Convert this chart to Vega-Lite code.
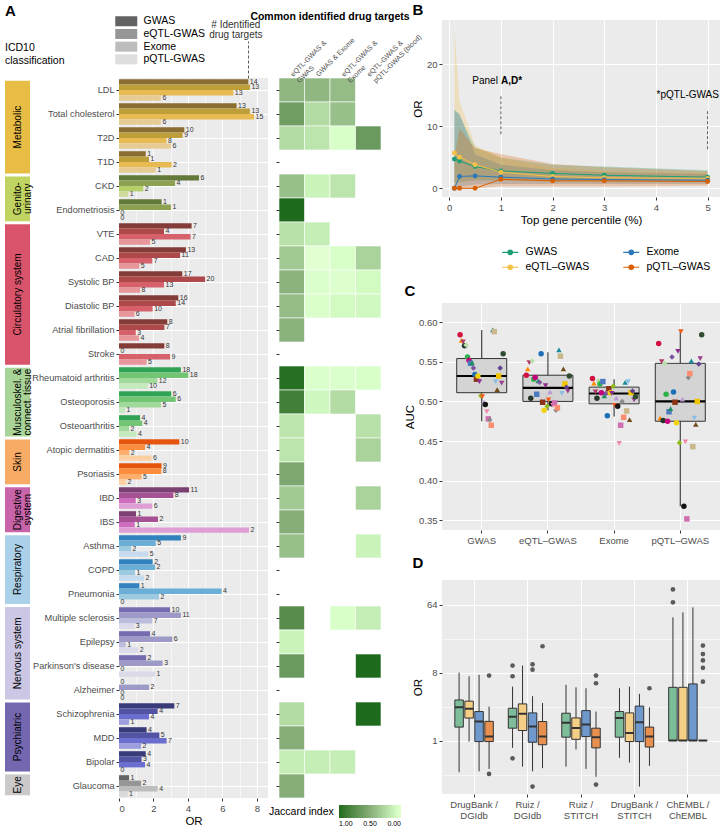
{
"$schema": "https://vega.github.io/schema/vega-lite/v6.json",
"padding": {"left": 5, "top": 3, "right": 0, "bottom": 0},
"background": "white",
"config": {
 "font": "Liberation Sans",
 "view": {"fill": "#ebebeb", "stroke": null},
 "axis": {"domain": false, "gridColor": "white", "gridWidth": 1.1, "tickColor": "#333333", "tickSize": 3, "labelColor": "#4d4d4d", "labelFontSize": 9.5, "titleFontSize": 11.5, "titleFontWeight": "normal", "titleColor": "black", "labelPadding": 2, "titlePadding": 3},
 "title": {"fontSize": 15, "fontWeight": "bold", "anchor": "start", "color": "black", "frame": "bounds"},
 "legend": {"labelFontSize": 10, "labelColor": "black", "titleFontWeight": "normal", "titleFontSize": 11, "titleColor": "black"}
},
"datasets": {
 "bars": [
  {"d":"LDL","c":"Met","m":["GWAS","eQTL-GWAS","Exome","pQTL-GWAS"],"v":[7.5,7.59,6.63,2.43],"n":[14,13,13,6]},
  {"d":"Total cholesterol","c":"Met","m":["GWAS","eQTL-GWAS","Exome","pQTL-GWAS"],"v":[6.82,7.59,7.83,2.43],"n":[13,13,15,6]},
  {"d":"T2D","c":"Met","m":["GWAS","eQTL-GWAS","Exome","pQTL-GWAS"],"v":[3.79,3.69,2.76,3.01],"n":[10,9,8,6]},
  {"d":"T1D","c":"Met","m":["GWAS","eQTL-GWAS","Exome","pQTL-GWAS"],"v":[1.55,1.74,3.05,2.13],"n":[1,1,2,1]},
  {"d":"CKD","c":"Gen","m":["GWAS","eQTL-GWAS","Exome","pQTL-GWAS"],"v":[4.64,3.25,1.41,0.54],"n":[6,4,2,1]},
  {"d":"Endometriosis","c":"Gen","m":["GWAS","eQTL-GWAS","Exome","pQTL-GWAS"],"v":[2.47,3.01,0,0],"n":[1,1,0,0]},
  {"d":"VTE","c":"Cir","m":["GWAS","eQTL-GWAS","Exome","pQTL-GWAS"],"v":[4.21,2.61,4.15,1.8],"n":[7,4,7,5]},
  {"d":"CAD","c":"Cir","m":["GWAS","eQTL-GWAS","Exome","pQTL-GWAS"],"v":[3.88,3.54,1.93,1.18],"n":[13,11,7,5]},
  {"d":"Systolic BP","c":"Cir","m":["GWAS","eQTL-GWAS","Exome","pQTL-GWAS"],"v":[3.67,4.99,2.61,1.22],"n":[17,20,13,8]},
  {"d":"Diastolic BP","c":"Cir","m":["GWAS","eQTL-GWAS","Exome","pQTL-GWAS"],"v":[3.44,3.29,1.95,0.89],"n":[16,14,10,6]},
  {"d":"Atrial fibrillation","c":"Cir","m":["GWAS","eQTL-GWAS","Exome","pQTL-GWAS"],"v":[2.8,2.63,0.97,1.16],"n":[8,7,3,4]},
  {"d":"Stroke","c":"Cir","m":["GWAS","eQTL-GWAS","Exome","pQTL-GWAS"],"v":[2.63,0,2.96,1.6],"n":[8,0,9,5]},
  {"d":"Rheumatoid arthritis","c":"Mus","m":["GWAS","eQTL-GWAS","Exome","pQTL-GWAS"],"v":[3.59,4.02,2.22,1.66],"n":[18,18,12,10]},
  {"d":"Osteoporosis","c":"Mus","m":["GWAS","eQTL-GWAS","Exome","pQTL-GWAS"],"v":[3.03,3.29,2.43,0.35],"n":[6,6,5,1]},
  {"d":"Osteoarthritis","c":"Mus","m":["GWAS","eQTL-GWAS","Exome","pQTL-GWAS"],"v":[1.22,1.35,0.58,1.02],"n":[4,4,2,4]},
  {"d":"Atopic dermatitis","c":"Ski","m":["GWAS","eQTL-GWAS","Exome","pQTL-GWAS"],"v":[3.5,1.51,0.6,1.89],"n":[10,4,2,6]},
  {"d":"Psoriasis","c":"Ski","m":["GWAS","eQTL-GWAS","Exome","pQTL-GWAS"],"v":[2.47,2.45,1.31,0.41],"n":[9,8,5,2]},
  {"d":"IBD","c":"Dig","m":["GWAS","eQTL-GWAS","Exome","pQTL-GWAS"],"v":[4.06,3.15,0.97,1.93],"n":[11,8,3,6]},
  {"d":"IBS","c":"Dig","m":["GWAS","eQTL-GWAS","Exome","pQTL-GWAS"],"v":[0.99,2.26,0.91,7.54],"n":[1,2,1,2]},
  {"d":"Asthma","c":"Res","m":["GWAS","eQTL-GWAS","Exome","pQTL-GWAS"],"v":[3.59,2.13,0.7,1.7],"n":[9,5,2,5]},
  {"d":"COPD","c":"Res","m":["GWAS","eQTL-GWAS","Exome","pQTL-GWAS"],"v":[1.95,2.09,0.93,1.45],"n":[2,2,1,2]},
  {"d":"Pneumonia","c":"Res","m":["GWAS","eQTL-GWAS","Exome","pQTL-GWAS"],"v":[1.18,5.95,2.32,0],"n":[1,4,2,0]},
  {"d":"Multiple sclerosis","c":"Ner","m":["GWAS","eQTL-GWAS","Exome","pQTL-GWAS"],"v":[2.96,3.59,1.93,0.89],"n":[10,11,7,3]},
  {"d":"Epilepsy","c":"Ner","m":["GWAS","eQTL-GWAS","Exome","pQTL-GWAS"],"v":[1.8,3.09,0.39,1.12],"n":[4,6,1,2]},
  {"d":"Parkinson's disease","c":"Ner","m":["GWAS","eQTL-GWAS","Exome","pQTL-GWAS"],"v":[1.57,2.53,0,2.09],"n":[2,3,0,1]},
  {"d":"Alzheimer","c":"Ner","m":["GWAS","eQTL-GWAS","Exome","pQTL-GWAS"],"v":[0,1.74,0,0],"n":[0,2,0,0]},
  {"d":"Schizophrenia","c":"Psy","m":["GWAS","eQTL-GWAS","Exome","pQTL-GWAS"],"v":[3.21,2.24,1.74,0.58],"n":[7,4,4,1]},
  {"d":"MDD","c":"Psy","m":["GWAS","eQTL-GWAS","Exome","pQTL-GWAS"],"v":[1.6,2.34,2.76,1.28],"n":[4,5,7,2]},
  {"d":"Bipolar","c":"Psy","m":["GWAS","eQTL-GWAS","Exome","pQTL-GWAS"],"v":[1.55,1.31,1.51,0],"n":[4,3,4,0]},
  {"d":"Glaucoma","c":"Eye","m":["GWAS","eQTL-GWAS","Exome","pQTL-GWAS"],"v":[0.58,1.28,2.24,0.5],"n":[1,2,4,1]}
 ],
 "heat": [
  {"d":"LDL","col":["eG","GX","eX","eP"],"j":[0.45,0.45,0.42,null]},
  {"d":"Total cholesterol","col":["eG","GX","eX","eP"],"j":[0.62,0.25,0.4,null]},
  {"d":"T2D","col":["eG","GX","eX","eP"],"j":[0.25,0.2,0.05,0.65]},
  {"d":"CKD","col":["eG","GX","eX","eP"],"j":[0.4,0.12,0.2,null]},
  {"d":"Endometriosis","col":["eG","GX","eX","eP"],"j":[1.0,null,null,null]},
  {"d":"VTE","col":["eG","GX","eX","eP"],"j":[0.22,0.15,null,null]},
  {"d":"CAD","col":["eG","GX","eX","eP"],"j":[0.35,0.0,0.05,0.3]},
  {"d":"Systolic BP","col":["eG","GX","eX","eP"],"j":[0.47,0.03,0.02,0.08]},
  {"d":"Diastolic BP","col":["eG","GX","eX","eP"],"j":[0.42,0.04,0.08,0.09]},
  {"d":"Atrial fibrillation","col":["eG","GX","eX","eP"],"j":[0.48,null,null,null]},
  {"d":"Rheumatoid arthritis","col":["eG","GX","eX","eP"],"j":[0.97,0.03,0.03,0.05]},
  {"d":"Osteoporosis","col":["eG","GX","eX","eP"],"j":[0.85,0.1,0.25,null]},
  {"d":"Osteoarthritis","col":["eG","GX","eX","eP"],"j":[0.2,null,null,0.22]},
  {"d":"Atopic dermatitis","col":["eG","GX","eX","eP"],"j":[0.2,null,null,0.3]},
  {"d":"Psoriasis","col":["eG","GX","eX","eP"],"j":[0.55,null,null,null]},
  {"d":"IBD","col":["eG","GX","eX","eP"],"j":[0.35,null,null,0.3]},
  {"d":"IBS","col":["eG","GX","eX","eP"],"j":[0.5,null,null,null]},
  {"d":"Asthma","col":["eG","GX","eX","eP"],"j":[0.4,null,null,0.12]},
  {"d":"Multiple sclerosis","col":["eG","GX","eX","eP"],"j":[0.75,null,0.05,0.15]},
  {"d":"Epilepsy","col":["eG","GX","eX","eP"],"j":[0.12,null,null,null]},
  {"d":"Parkinson's disease","col":["eG","GX","eX","eP"],"j":[0.65,null,null,1.0]},
  {"d":"Schizophrenia","col":["eG","GX","eX","eP"],"j":[0.25,null,null,1.0]},
  {"d":"MDD","col":["eG","GX","eX","eP"],"j":[0.5,null,null,null]},
  {"d":"Bipolar","col":["eG","GX","eX","eP"],"j":[0.15,0.15,0.15,null]},
  {"d":"Glaucoma","col":["eG","GX","eX","eP"],"j":[0.5,null,null,null]}
 ],
 "strip": [
  {"c":"Metabolic","s":0,"e":4,"t":["Metabolic"]},
  {"c":"Genito-urinary","s":4,"e":6,"t":["Genito-","urinary"]},
  {"c":"Circulatory system","s":6,"e":12,"t":["Circulatory system"]},
  {"c":"Musculoskel.","s":12,"e":15,"t":["Musculoskel. &","connect. tissue"]},
  {"c":"Skin","s":15,"e":17,"t":["Skin"]},
  {"c":"Digestive system","s":17,"e":19,"t":["Digestive","system"]},
  {"c":"Respiratory","s":19,"e":22,"t":["Respiratory"]},
  {"c":"Nervous system","s":22,"e":26,"t":["Nervous system"]},
  {"c":"Psychiatric","s":26,"e":29,"t":["Psychiatric"]},
  {"c":"Eye","s":29,"e":30,"t":["Eye"]}
 ],
 "trend": [
  {"m":"GWAS","p":[0.1,0.2,0.5,1,2,3,5],"or":[4.7,4.4,3.5,2.8,2.4,2.1,1.8],"lo":[0.8,1.0,1.3,1.3,1.3,1.2,1.1],"hi":[12.8,11.7,6.6,4.9,3.8,3.5,2.9]},
  {"m":"eQTL-GWAS","p":[0.1,0.2,0.5,1,2,3,5],"or":[5.7,5.0,3.8,2.6,1.9,1.7,1.6],"lo":[0.9,1.0,1.3,1.2,1.0,0.9,0.9],"hi":[25.7,14.0,6.9,5.0,3.3,2.8,2.5]},
  {"m":"Exome","p":[0.1,0.2,0.5,1,2,3,5],"or":[0,1.9,2.0,1.8,1.5,1.4,1.3],"lo":[0,0.2,0.6,0.7,0.7,0.7,0.7],"hi":[12.5,12.0,5.5,3.8,2.9,2.6,2.3]},
  {"m":"pQTL-GWAS","p":[0.1,0.2,0.5,1,2,3,5],"or":[0,0,0,1.45,1.2,1.2,1.1],"lo":[0,0,0,0.3,0.3,0.3,0.4],"hi":[5.0,9.6,6.5,5.5,3.9,3.4,2.8]}
 ],
 "cbox": [
  {"m":"GWAS","lo":0.475,"q1":0.511,"med":0.532,"q3":0.554,"hi":0.59},
  {"m":"eQTL-GWAS","lo":0.489,"q1":0.5,"med":0.517,"q3":0.533,"hi":0.562},
  {"m":"Exome","lo":0.481,"q1":0.497,"med":0.51,"q3":0.518,"hi":0.528},
  {"m":"pQTL-GWAS","lo":0.368,"q1":0.475,"med":0.5,"q3":0.548,"hi":0.59}
 ],
 "cpts": [
  {"d":"LDL","m":["GWAS","eQTL-GWAS","Exome","pQTL-GWAS"],"a":[0.584,0.533,0.529,0.573]},
  {"d":"Total cholesterol","m":["GWAS","eQTL-GWAS","Exome","pQTL-GWAS"],"a":[0.577,0.541,0.523,0.479]},
  {"d":"T2D","m":["GWAS","eQTL-GWAS","Exome","pQTL-GWAS"],"a":[0.575,0.549,0.512,0.55]},
  {"d":"T1D","m":["GWAS","eQTL-GWAS","Exome","pQTL-GWAS"],"a":[0.57,0.504,0.504,0.476]},
  {"d":"CKD","m":["GWAS","eQTL-GWAS","Exome","pQTL-GWAS"],"a":[0.571,0.551,0.526,0.548]},
  {"d":"Endometriosis","m":["GWAS","eQTL-GWAS","Exome","pQTL-GWAS"],"a":[0.556,0.528,0.522,0.509]},
  {"d":"VTE","m":["GWAS","eQTL-GWAS","Exome","pQTL-GWAS"],"a":[0.552,0.53,0.511,0.475]},
  {"d":"CAD","m":["GWAS","eQTL-GWAS","Exome","pQTL-GWAS"],"a":[0.548,0.509,0.525,0.487]},
  {"d":"Systolic BP","m":["GWAS","eQTL-GWAS","Exome","pQTL-GWAS"],"a":[0.549,0.526,0.507,0.491]},
  {"d":"Diastolic BP","m":["GWAS","eQTL-GWAS","Exome","pQTL-GWAS"],"a":[0.542,0.524,0.51,0.556]},
  {"d":"Atrial fibrillation","m":["GWAS","eQTL-GWAS","Exome","pQTL-GWAS"],"a":[0.534,0.56,0.482,0.512]},
  {"d":"Stroke","m":["GWAS","eQTL-GWAS","Exome","pQTL-GWAS"],"a":[0.528,0.499,0.516,0.499]},
  {"d":"Rheumatoid arthritis","m":["GWAS","eQTL-GWAS","Exome","pQTL-GWAS"],"a":[0.532,0.489,0.511,0.473]},
  {"d":"Osteoporosis","m":["GWAS","eQTL-GWAS","Exome","pQTL-GWAS"],"a":[0.525,0.52,0.51,0.563]},
  {"d":"Osteoarthritis","m":["GWAS","eQTL-GWAS","Exome","pQTL-GWAS"],"a":[0.507,0.494,0.519,0.448]},
  {"d":"Atopic dermatitis","m":["GWAS","eQTL-GWAS","Exome","pQTL-GWAS"],"a":[0.506,0.502,0.495,0.588]},
  {"d":"Psoriasis","m":["GWAS","eQTL-GWAS","Exome","pQTL-GWAS"],"a":[0.499,0.512,0.504,0.503]},
  {"d":"IBD","m":["GWAS","eQTL-GWAS","Exome","pQTL-GWAS"],"a":[0.496,0.497,0.494,0.368]},
  {"d":"IBS","m":["GWAS","eQTL-GWAS","Exome","pQTL-GWAS"],"a":[0.487,0.495,0.447,0.449]},
  {"d":"Asthma","m":["GWAS","eQTL-GWAS","Exome","pQTL-GWAS"],"a":[0.478,0.498,0.47,0.352]},
  {"d":"COPD","m":["GWAS","eQTL-GWAS","Exome","pQTL-GWAS"],"a":[0.477,0.489,0.5,0.53]},
  {"d":"Pneumonia","m":["GWAS","eQTL-GWAS","Exome","pQTL-GWAS"],"a":[0.47,0.492,0.48,0.535]},
  {"d":"Multiple sclerosis","m":["GWAS","eQTL-GWAS","Exome","pQTL-GWAS"],"a":[0.59,0.565,0.524,0.551]},
  {"d":"Epilepsy","m":["GWAS","eQTL-GWAS","Exome","pQTL-GWAS"],"a":[0.588,0.557,0.488,0.443]},
  {"d":"Parkinson's disease","m":["GWAS","eQTL-GWAS","Exome","pQTL-GWAS"],"a":[0.525,0.51,0.525,0.479]},
  {"d":"Alzheimer","m":["GWAS","eQTL-GWAS","Exome","pQTL-GWAS"],"a":[0.515,0.541,0.477,0.471]},
  {"d":"Schizophrenia","m":["GWAS","eQTL-GWAS","Exome","pQTL-GWAS"],"a":[0.532,0.522,0.511,0.5]},
  {"d":"MDD","m":["GWAS","eQTL-GWAS","Exome","pQTL-GWAS"],"a":[0.542,0.518,0.513,0.547]},
  {"d":"Bipolar","m":["GWAS","eQTL-GWAS","Exome","pQTL-GWAS"],"a":[0.523,0.513,0.502,0.554]},
  {"d":"Glaucoma","m":["GWAS","eQTL-GWAS","Exome","pQTL-GWAS"],"a":[0.56,0.532,0.506,0.584]}
 ],
 "dbox": [
  {"g":"DrugBank / DGIdb","m":"GWAS","lo":0.38,"q1":1.51,"med":2.77,"q3":3.46,"hi":8.0},
  {"g":"DrugBank / DGIdb","m":"eQTL-GWAS","lo":0.97,"q1":1.99,"med":2.64,"q3":3.34,"hi":7.16},
  {"g":"DrugBank / DGIdb","m":"Exome","lo":0.39,"q1":0.97,"med":1.79,"q3":2.43,"hi":7.46},
  {"g":"DrugBank / DGIdb","m":"pQTL-GWAS","lo":0.42,"q1":0.97,"med":1.13,"q3":1.8,"hi":2.83},
  {"g":"Ruiz / DGIdb","m":"GWAS","lo":0.8,"q1":1.46,"med":2.08,"q3":2.69,"hi":5.21},
  {"g":"Ruiz / DGIdb","m":"eQTL-GWAS","lo":0.45,"q1":1.36,"med":2.27,"q3":3.07,"hi":9.92},
  {"g":"Ruiz / DGIdb","m":"Exome","lo":0.39,"q1":0.95,"med":1.54,"q3":2.33,"hi":3.89},
  {"g":"Ruiz / DGIdb","m":"pQTL-GWAS","lo":0.43,"q1":0.88,"med":1.13,"q3":1.79,"hi":3.16},
  {"g":"Ruiz / STITCH","m":"GWAS","lo":0.45,"q1":1.11,"med":1.72,"q3":2.31,"hi":5.5},
  {"g":"Ruiz / STITCH","m":"eQTL-GWAS","lo":0.76,"q1":1.04,"med":1.47,"q3":2.0,"hi":5.1},
  {"g":"Ruiz / STITCH","m":"Exome","lo":0.42,"q1":1.13,"med":1.64,"q3":2.5,"hi":4.96},
  {"g":"Ruiz / STITCH","m":"pQTL-GWAS","lo":0.33,"q1":0.8,"med":1.11,"q3":1.46,"hi":2.43},
  {"g":"DrugBank / STITCH","m":"GWAS","lo":0.59,"q1":1.11,"med":1.99,"q3":2.43,"hi":4.96},
  {"g":"DrugBank / STITCH","m":"eQTL-GWAS","lo":0.51,"q1":0.97,"med":1.26,"q3":2.33,"hi":5.21},
  {"g":"DrugBank / STITCH","m":"Exome","lo":0.245,"q1":0.97,"med":1.75,"q3":2.87,"hi":4.17},
  {"g":"DrugBank / STITCH","m":"pQTL-GWAS","lo":0.46,"q1":0.82,"med":1.13,"q3":1.51,"hi":2.77},
  {"g":"ChEMBL / ChEMBL","m":"GWAS","lo":1,"q1":1,"med":1,"q3":5.1,"hi":43.4},
  {"g":"ChEMBL / ChEMBL","m":"eQTL-GWAS","lo":1,"q1":1,"med":1,"q3":5.1,"hi":50.6},
  {"g":"ChEMBL / ChEMBL","m":"Exome","lo":1,"q1":1,"med":1,"q3":5.66,"hi":58.9},
  {"g":"ChEMBL / ChEMBL","m":"pQTL-GWAS","lo":1,"q1":1,"med":1,"q3":1,"hi":1}
 ],
 "dout": [
  {"g":"DrugBank / DGIdb","m":"pQTL-GWAS","v":7.31},
  {"g":"DrugBank / DGIdb","m":"pQTL-GWAS","v":0.36},
  {"g":"Ruiz / DGIdb","m":"GWAS","v":9.92},
  {"g":"Ruiz / DGIdb","m":"GWAS","v":7.16},
  {"g":"Ruiz / DGIdb","m":"GWAS","v":0.58},
  {"g":"Ruiz / DGIdb","m":"Exome","v":10.3},
  {"g":"Ruiz / DGIdb","m":"Exome","v":8.75},
  {"g":"Ruiz / DGIdb","m":"Exome","v":0.245},
  {"g":"Ruiz / DGIdb","m":"pQTL-GWAS","v":17.9},
  {"g":"Ruiz / STITCH","m":"pQTL-GWAS","v":7.31},
  {"g":"Ruiz / STITCH","m":"pQTL-GWAS","v":5.78},
  {"g":"Ruiz / STITCH","m":"pQTL-GWAS","v":0.26},
  {"g":"DrugBank / STITCH","m":"pQTL-GWAS","v":4.96},
  {"g":"ChEMBL / ChEMBL","m":"GWAS","v":102},
  {"g":"ChEMBL / ChEMBL","m":"GWAS","v":68.6},
  {"g":"ChEMBL / ChEMBL","m":"pQTL-GWAS","v":18.3},
  {"g":"ChEMBL / ChEMBL","m":"pQTL-GWAS","v":14.1},
  {"g":"ChEMBL / ChEMBL","m":"pQTL-GWAS","v":11.6},
  {"g":"ChEMBL / ChEMBL","m":"pQTL-GWAS","v":9.25},
  {"g":"ChEMBL / ChEMBL","m":"pQTL-GWAS","v":6.06}
 ]
},
"spacing": -18,
"resolve": {"scale": {"color": "independent", "fill": "independent", "shape": "independent", "x": "independent", "y": "independent", "xOffset": "independent", "yOffset": "independent"}, "legend": {"color": "independent", "fill": "independent", "shape": "independent"}},
"hconcat": [
 {
  "spacing": 4,
  "bounds": "flush",
  "resolve": {"scale": {"color": "independent", "fill": "independent", "x": "independent", "y": "independent"}, "legend": {"color": "independent", "fill": "independent"}},
  "vconcat": [
   {"width": 10, "height": 54, "view": {"fill": null, "stroke": null}, "data": {"values": [{"z": 0}]}, "mark": {"type": "point", "opacity": 0}, "encoding": {}},
   {
  "spacing": 11,
  "bounds": "flush",
  "resolve": {"scale": {"color": "independent", "fill": "independent", "x": "independent", "y": "independent"}, "legend": {"color": "independent", "fill": "independent"}},
  "hconcat": [
   {
    "width": 103, "height": 720,
    "view": {"fill": null, "stroke": null},
    "title": {"text": "A", "subtitle": ["ICD10", "classification"], "subtitleFontSize": 10.5, "subtitleColor": "black", "subtitlePadding": 24, "offset": 12, "fontSize": 15},
    "resolve": {"scale": {"y": "independent"}, "axis": {"y": "independent"}},
    "layer": [
     {
      "layer": [
       {"data": {"name": "strip"}, "mark": {"type": "rect", "yOffset": 1.5, "y2Offset": -1.5}, "encoding": {
         "x": {"datum": 0, "type": "quantitative", "scale": {"domain": [0, 4.12], "nice": false, "zero": false}, "axis": null},
         "x2": {"datum": 1},
         "y": {"field": "s", "type": "quantitative", "scale": {"domain": [-0.05, 30.05], "reverse": true, "nice": false, "zero": false}, "axis": null},
         "y2": {"field": "e"},
         "color": {"field": "c", "type": "nominal", "scale": {"domain": ["Metabolic","Genito-urinary","Circulatory system","Musculoskel.","Skin","Digestive system","Respiratory","Nervous system","Psychiatric","Eye"], "range": ["#e8bd46","#bfd461","#d9546b","#a9d497","#f8ab64","#c964ab","#abd1ea","#cbc7e4","#7467b0","#cbc9c9"]}, "legend": null}}},
       {"data": {"name": "strip"}, "transform": [{"calculate": "(datum.s + datum.e) / 2", "as": "mid"}], "mark": {"type": "text", "angle": 270, "fontSize": 10, "color": "black", "lineHeight": 10.5},
        "encoding": {
         "x": {"datum": 0.5, "type": "quantitative"},
         "y": {"field": "mid", "type": "quantitative", "axis": null},
         "text": {"field": "t"}}}
      ]
     },
     {"data": {"name": "bars"}, "mark": {"type": "tick", "opacity": 0}, "encoding": {
       "y": {"field": "d", "type": "nominal", "scale": {"domain": ["LDL","Total cholesterol","T2D","T1D","CKD","Endometriosis","VTE","CAD","Systolic BP","Diastolic BP","Atrial fibrillation","Stroke","Rheumatoid arthritis","Osteoporosis","Osteoarthritis","Atopic dermatitis","Psoriasis","IBD","IBS","Asthma","COPD","Pneumonia","Multiple sclerosis","Epilepsy","Parkinson's disease","Alzheimer","Schizophrenia","MDD","Bipolar","Glaucoma"], "paddingInner": 0.1, "paddingOuter": 0.05},
         "axis": {"orient": "right", "title": null, "ticks": false, "tickSize": 0, "labelAlign": "right", "labelPadding": 6, "labelFontSize": 9.2, "grid": false}}}}
    ]
   },
   {
    "width": 149, "height": 720,
    "resolve": {"axis": {"x": "independent"}},
    "layer": [
     {"data": {"name": "bars"}, "transform": [{"flatten": ["m","v","n"]}, {"calculate": "datum.c + '|' + datum.m", "as": "k"}],
      "mark": {"type": "bar"},
      "encoding": {
       "x": {"field": "v", "type": "quantitative", "scale": {"domain": [0, 8.64], "nice": false}, "axis": {"title": "OR", "values": [0,1,2,3,4,5,6,7,8], "labelExpr": "datum.value % 2 == 0 ? datum.label : ''", "tickOpacity": {"condition": {"test": "datum.value % 2 != 0", "value": 0}, "value": 1}, "gridWidth": {"condition": {"test": "datum.value % 2 != 0", "value": 0.55}, "value": 1.1}}},
       "y": {"field": "d", "type": "nominal", "scale": {"domain": ["LDL","Total cholesterol","T2D","T1D","CKD","Endometriosis","VTE","CAD","Systolic BP","Diastolic BP","Atrial fibrillation","Stroke","Rheumatoid arthritis","Osteoporosis","Osteoarthritis","Atopic dermatitis","Psoriasis","IBD","IBS","Asthma","COPD","Pneumonia","Multiple sclerosis","Epilepsy","Parkinson's disease","Alzheimer","Schizophrenia","MDD","Bipolar","Glaucoma"], "paddingInner": 0.1, "paddingOuter": 0.05}, "axis": {"title": null, "labels": false, "ticks": true, "grid": true}},
       "yOffset": {"field": "m", "type": "nominal", "scale": {"domain": ["GWAS","eQTL-GWAS","Exome","pQTL-GWAS"]}},
       "color": {"field": "k", "type": "nominal", "legend": null, "scale": {
         "domain": ["Met|GWAS","Met|eQTL-GWAS","Met|Exome","Met|pQTL-GWAS","Gen|GWAS","Gen|eQTL-GWAS","Gen|Exome","Gen|pQTL-GWAS","Cir|GWAS","Cir|eQTL-GWAS","Cir|Exome","Cir|pQTL-GWAS","Mus|GWAS","Mus|eQTL-GWAS","Mus|Exome","Mus|pQTL-GWAS","Ski|GWAS","Ski|eQTL-GWAS","Ski|Exome","Ski|pQTL-GWAS","Dig|GWAS","Dig|eQTL-GWAS","Dig|Exome","Dig|pQTL-GWAS","Res|GWAS","Res|eQTL-GWAS","Res|Exome","Res|pQTL-GWAS","Ner|GWAS","Ner|eQTL-GWAS","Ner|Exome","Ner|pQTL-GWAS","Psy|GWAS","Psy|eQTL-GWAS","Psy|Exome","Psy|pQTL-GWAS","Eye|GWAS","Eye|eQTL-GWAS","Eye|Exome","Eye|pQTL-GWAS"],
         "range": ["#8c6d31","#bd9e39","#e7ba52","#e7cb94","#637939","#8ca252","#b5cf6b","#cedb9c","#843c39","#ad494a","#d6616b","#e7969c","#31a354","#74c476","#a1d99b","#c7e9c0","#e6550d","#fd8d3c","#fdae6b","#fdd0a2","#7b4173","#a55194","#ce6dbd","#de9ed6","#3182bd","#6baed6","#9ecae1","#c6dbef","#756bb1","#9e9ac8","#bcbddc","#dadaeb","#393b79","#5254a3","#6b6ecf","#9c9ede","#636363","#969696","#bdbdbd","#d9d9d9"]}}
      }},
     {"data": {"name": "bars"}, "transform": [{"flatten": ["m","v","n"]}],
      "mark": {"type": "text", "align": "left", "baseline": "middle", "dx": 1.5, "fontSize": 7, "color": "#333333"},
      "encoding": {
       "x": {"field": "v", "type": "quantitative", "axis": null},
       "y": {"field": "d", "type": "nominal"},
       "yOffset": {"field": "m", "type": "nominal"},
       "text": {"field": "n", "type": "quantitative"}
      }},
     {"data": {"values": [{"v": 7.5}]}, "mark": {"type": "rule", "opacity": 0}, "encoding": {
       "x": {"field": "v", "type": "quantitative", "axis": {"orient": "top", "values": [7.5], "title": null, "grid": false, "domain": false, "ticks": true, "tickSize": 37, "tickDash": [3, 2], "tickColor": "#333333", "tickWidth": 0.8, "labelExpr": "['# Identified', 'drug targets']", "labelFontSize": 10, "labelLineHeight": 10.5, "labelColor": "#333333", "labelPadding": 12, "labelOffset": -13}}}},
     {"data": {"name": "bars"}, "transform": [{"flatten": ["m","v","n"]}],
      "mark": {"type": "square", "opacity": 0},
      "encoding": {
       "x": {"field": "v", "type": "quantitative", "axis": null},
       "y": {"field": "d", "type": "nominal"},
       "fill": {"field": "m", "type": "nominal", "scale": {"domain": ["GWAS","eQTL-GWAS","Exome","pQTL-GWAS"], "range": ["#636363","#969696","#bdbdbd","#dedede"]},
         "legend": {"title": null, "orient": "none", "legendX": 2, "legendY": -62, "symbolType": "M-2.2,-1H2.2V1H-2.2Z", "symbolSize": 100, "symbolOpacity": 1, "symbolStrokeWidth": 0, "labelFontSize": 10.5, "labelOffset": 12, "rowPadding": 1.7}}
      }}
    ]
   },
   {
    "width": 102, "height": 720,
    "view": {"fill": null, "stroke": null},
    "title": {"text": "Common identified drug targets", "fontSize": 10.5, "anchor": "middle", "frame": "group", "offset": 4},
    "data": {"name": "heat"},
    "transform": [{"flatten": ["col","j"]}, {"filter": "datum.j != null"}],
    "mark": {"type": "rect", "stroke": "white", "strokeWidth": 0.6},
    "encoding": {
     "x": {"field": "col", "type": "nominal", "scale": {"domain": ["eG","GX","eX","eP"], "padding": 0}, "axis": {"orient": "top", "title": null, "ticks": false, "labelAngle": -45, "labelAlign": "left", "labelBaseline": "middle", "labelFontSize": 7, "labelPadding": 3, "labelExpr": "datum.value == 'eG' ? ['eQTL-GWAS &', 'GWAS'] : datum.value == 'GX' ? ['GWAS & Exome'] : datum.value == 'eX' ? ['eQTL-GWAS &', 'Exome'] : ['eQTL-GWAS &', 'pQTL-GWAS (blood)']"}},
     "y": {"field": "d", "type": "nominal", "scale": {"domain": ["LDL","Total cholesterol","T2D","T1D","CKD","Endometriosis","VTE","CAD","Systolic BP","Diastolic BP","Atrial fibrillation","Stroke","Rheumatoid arthritis","Osteoporosis","Osteoarthritis","Atopic dermatitis","Psoriasis","IBD","IBS","Asthma","COPD","Pneumonia","Multiple sclerosis","Epilepsy","Parkinson's disease","Alzheimer","Schizophrenia","MDD","Bipolar","Glaucoma"], "padding": 0}, "axis": {"title": null, "labels": false, "ticks": true, "grid": false}},
     "color": {"field": "j", "type": "quantitative", "scale": {"domain": [1, 0.5, 0], "range": ["#1f6b1d", "#87ae79", "#ffffff"]},
       "legend": {"title": "Jaccard index", "orient": "none", "legendX": -10, "legendY": 727, "direction": "horizontal", "titleOrient": "left", "gradientLength": 62, "gradientThickness": 13, "values": [1, 0.75, 0.5, 0.25, 0], "format": ".2f", "labelFontSize": 7, "titleFontSize": 10.5}}
    }
   }
  ]
   }
  ]
 },
 {
  "spacing": 11,
  "resolve": {"scale": {"color": "independent", "shape": "independent", "x": "independent", "y": "independent", "xOffset": "independent"}, "legend": {"color": "independent", "shape": "independent"}},
  "vconcat": [
   {
    "width": 278, "height": 177,
    "title": {"text": "B", "offset": 2},
    "layer": [
     {"data": {"name": "trend"}, "transform": [{"flatten": ["p","or","lo","hi"]}], "mark": {"type": "area", "opacity": 0.27},
      "encoding": {
       "x": {"field": "p", "type": "quantitative", "scale": {"domain": [-0.14, 5.24], "nice": false, "zero": false}, "axis": {"title": "Top gene percentile (%)", "values": [0,0.5,1,1.5,2,2.5,3,3.5,4,4.5,5], "labelExpr": "datum.value % 1 == 0 ? datum.label : ''", "tickOpacity": {"condition": {"test": "datum.value % 1 != 0", "value": 0}, "value": 1}, "gridWidth": {"condition": {"test": "datum.value % 1 != 0", "value": 0.55}, "value": 1.1}}},
       "y": {"field": "lo", "type": "quantitative", "scale": {"domain": [-1.4, 27.1], "nice": false, "zero": false}, "axis": {"title": "OR", "values": [0,5,10,15,20,25], "labelExpr": "datum.value % 10 == 0 ? datum.label : ''", "tickOpacity": {"condition": {"test": "datum.value % 10 != 0", "value": 0}, "value": 1}, "gridWidth": {"condition": {"test": "datum.value % 10 != 0", "value": 0.55}, "value": 1.1}}},
       "y2": {"field": "hi"},
       "color": {"field": "m", "type": "nominal", "scale": {"domain": ["GWAS","eQTL-GWAS","Exome","pQTL-GWAS"], "range": ["#1b9e77","#f4c046","#2b79b9","#d95f02"]},
         "legend": {"title": null, "orient": "none", "legendX": 63, "legendY": 227, "columns": 2, "symbolType": "M-2,0H2M-0.55,0A0.55,0.55,0,1,1,0.55,0A0.55,0.55,0,1,1,-0.55,0", "symbolSize": 64, "symbolStrokeWidth": 1.2, "symbolOpacity": 1, "labelFontSize": 10.5, "columnPadding": 30, "rowPadding": 4, "labelOffset": 10, "labelExpr": "replace(datum.label, '-', '–')"}}
      }},
     {"data": {"name": "trend"}, "transform": [{"flatten": ["p","or","lo","hi"]}], "mark": {"type": "line", "strokeWidth": 1},
      "encoding": {"x": {"field": "p", "type": "quantitative"}, "y": {"field": "or", "type": "quantitative"}, "color": {"field": "m", "type": "nominal"}}},
     {"data": {"name": "trend"}, "transform": [{"flatten": ["p","or","lo","hi"]}], "mark": {"type": "point", "filled": true, "size": 24, "opacity": 1},
      "encoding": {"x": {"field": "p", "type": "quantitative"}, "y": {"field": "or", "type": "quantitative"}, "color": {"field": "m", "type": "nominal"}}},
     {"data": {"values": [{"p": 1, "y": 8.7, "y2": 15}, {"p": 5, "y": 6.3, "y2": 12.6}]}, "mark": {"type": "rule", "strokeDash": [3, 2], "color": "#333333", "strokeWidth": 0.8},
      "encoding": {"x": {"field": "p", "type": "quantitative"}, "y": {"field": "y", "type": "quantitative"}, "y2": {"field": "y2"}}},
     {"data": {"values": [{"p": 1, "y": 17.3, "t": "Panel"}]}, "mark": {"type": "text", "align": "right", "dx": -3, "fontSize": 10, "color": "black"},
      "encoding": {"x": {"field": "p", "type": "quantitative"}, "y": {"field": "y", "type": "quantitative"}, "text": {"field": "t"}}},
     {"data": {"values": [{"p": 1, "y": 17.3, "t": "A,D*"}]}, "mark": {"type": "text", "align": "left", "fontSize": 10, "fontWeight": "bold", "color": "black"},
      "encoding": {"x": {"field": "p", "type": "quantitative"}, "y": {"field": "y", "type": "quantitative"}, "text": {"field": "t"}}},
     {"data": {"values": [{"p": 5.22, "y": 15, "t": "*pQTL-GWAS"}]}, "mark": {"type": "text", "align": "right", "fontSize": 10, "color": "black"},
      "encoding": {"x": {"field": "p", "type": "quantitative"}, "y": {"field": "y", "type": "quantitative"}, "text": {"field": "t"}}}
    ]
   },
   {
    "width": 278, "height": 227,
    "title": {"text": "C", "offset": 4},
    "layer": [
     {"data": {"name": "cbox"}, "mark": {"type": "rule", "color": "#333333", "strokeWidth": 1.1},
      "encoding": {
       "x": {"field": "m", "type": "nominal", "scale": {"domain": ["GWAS","eQTL-GWAS","Exome","pQTL-GWAS"], "paddingInner": 0, "paddingOuter": 0.1}, "axis": {"title": null, "grid": true, "labelAngle": 0, "labelExpr": "replace(datum.label, '-', '–')"}},
       "y": {"field": "lo", "type": "quantitative", "scale": {"domain": [0.338, 0.624], "nice": false, "zero": false}, "axis": {"title": "AUC", "values": [0.35,0.375,0.4,0.425,0.45,0.475,0.5,0.525,0.55,0.575,0.6], "labelExpr": "round(datum.value*1000) % 50 == 0 ? format(datum.value, '.2f') : ''", "tickOpacity": {"condition": {"test": "round(datum.value*1000) % 50 != 0", "value": 0}, "value": 1}, "gridWidth": {"condition": {"test": "round(datum.value*1000) % 50 != 0", "value": 0.55}, "value": 1.1}}},
       "y2": {"field": "hi"}
      }},
     {"data": {"name": "cbox"}, "mark": {"type": "bar", "width": 50, "fill": "#d5d4d5", "stroke": "#333333", "strokeWidth": 1},
      "encoding": {"x": {"field": "m", "type": "nominal"}, "y": {"field": "q1", "type": "quantitative"}, "y2": {"field": "q3"}}},
     {"data": {"name": "cbox"}, "mark": {"type": "tick", "color": "black", "thickness": 2.2, "size": 50, "opacity": 1},
      "encoding": {"x": {"field": "m", "type": "nominal"}, "y": {"field": "med", "type": "quantitative"}}},
     {"data": {"name": "cpts"}, "transform": [{"flatten": ["m","a"]}], "mark": {"type": "point", "filled": true, "size": 30, "opacity": 1},
      "encoding": {
       "x": {"field": "m", "type": "nominal"},
       "xOffset": {"field": "d", "type": "nominal", "scale": {"domain": ["LDL","Total cholesterol","T2D","T1D","CKD","Endometriosis","VTE","CAD","Systolic BP","Diastolic BP","Atrial fibrillation","Stroke","Rheumatoid arthritis","Osteoporosis","Osteoarthritis","Atopic dermatitis","Psoriasis","IBD","IBS","Asthma","COPD","Pneumonia","Multiple sclerosis","Epilepsy","Parkinson's disease","Alzheimer","Schizophrenia","MDD","Bipolar","Glaucoma"], "paddingInner": 0, "paddingOuter": 2.5, "range": [10, 56]}},
       "y": {"field": "a", "type": "quantitative"},
       "color": {"field": "d", "type": "nominal", "legend": null, "scale": {"domain": ["LDL","Total cholesterol","T2D","T1D","CKD","Endometriosis","VTE","CAD","Systolic BP","Diastolic BP","Atrial fibrillation","Stroke","Rheumatoid arthritis","Osteoporosis","Osteoarthritis","Atopic dermatitis","Psoriasis","IBD","IBS","Asthma","COPD","Pneumonia","Multiple sclerosis","Epilepsy","Parkinson's disease","Alzheimer","Schizophrenia","MDD","Bipolar","Glaucoma"],
         "range": ["#d11141","#ff8c00","#b03a68","#26352a","#b7dfa7","#2db34a","#c4007a","#4f79c2","#1a9061","#7b529f","#1b6fb6","#8b3418","#f2d30b","#8d2b8e","#90bd1c","#f35d1b","#ba9bd4","#151515","#f28aa9","#cf6eb1","#8a8a8a","#fc8d6f","#1c8b9a","#c9b68b","#88bee6","#6f4b17","#f0c400","#5d4090","#9b3e8b","#2f4b30"]}},
       "shape": {"field": "d", "type": "nominal", "legend": null, "scale": {"domain": ["LDL","Total cholesterol","T2D","T1D","CKD","Endometriosis","VTE","CAD","Systolic BP","Diastolic BP","Atrial fibrillation","Stroke","Rheumatoid arthritis","Osteoporosis","Osteoarthritis","Atopic dermatitis","Psoriasis","IBD","IBS","Asthma","COPD","Pneumonia","Multiple sclerosis","Epilepsy","Parkinson's disease","Alzheimer","Schizophrenia","MDD","Bipolar","Glaucoma"],
         "range": ["circle","triangle-up","triangle-down","circle","diamond","circle","circle","square","triangle-up","diamond","circle","square","circle","triangle-down","diamond","triangle-down","triangle-up","circle","triangle-down","square","diamond","square","triangle-up","square","triangle-down","triangle-up","square","diamond","triangle-down","circle"]}}
      }}
    ]
   },
   {
    "width": 278, "height": 214,
    "title": {"text": "D", "offset": 9},
    "layer": [
     {"data": {"name": "dbox"}, "mark": {"type": "rule", "color": "#333333", "strokeWidth": 1},
      "encoding": {
       "x": {"field": "g", "type": "nominal", "scale": {"domain": ["DrugBank / DGIdb","Ruiz / DGIdb","Ruiz / STITCH","DrugBank / STITCH","ChEMBL / ChEMBL"], "paddingInner": 0, "paddingOuter": 0.1}, "axis": {"title": null, "grid": true, "labelAngle": 0, "labelExpr": "[split(datum.label, ' / ')[0] + ' /', split(datum.label, ' / ')[1]]"}},
       "xOffset": {"field": "m", "type": "nominal", "scale": {"domain": ["GWAS","eQTL-GWAS","Exome","pQTL-GWAS"], "paddingInner": 0.15, "paddingOuter": 0.75}},
       "y": {"field": "lo", "type": "quantitative", "scale": {"type": "log", "base": 2, "domain": [0.195, 136], "nice": false}, "axis": {"title": "OR", "values": [0.3536, 1, 2.828, 8, 22.63, 64], "labelExpr": "datum.value >= 1 && datum.value % 1 == 0 ? datum.value + '' : ''", "tickOpacity": {"condition": {"test": "datum.value % 1 != 0", "value": 0}, "value": 1}, "gridWidth": {"condition": {"test": "datum.value % 1 != 0", "value": 0.55}, "value": 1.1}}},
       "y2": {"field": "hi"}
      }},
     {"data": {"name": "dbox"}, "mark": {"type": "bar", "stroke": "#333333", "strokeWidth": 1},
      "encoding": {
       "x": {"field": "g", "type": "nominal"},
       "xOffset": {"field": "m", "type": "nominal"},
       "y": {"field": "q1", "type": "quantitative"}, "y2": {"field": "q3"},
       "color": {"field": "m", "type": "nominal", "legend": null, "scale": {"domain": ["GWAS","eQTL-GWAS","Exome","pQTL-GWAS"], "range": ["#7dbd99","#f5cf85","#6f98cd","#e8904f"]}}
      }},
     {"data": {"name": "dbox"}, "mark": {"type": "bar", "stroke": "#333333", "strokeWidth": 2, "fill": "#333333"},
      "encoding": {"x": {"field": "g", "type": "nominal"}, "xOffset": {"field": "m", "type": "nominal"}, "y": {"field": "med", "type": "quantitative"}, "y2": {"field": "med"}}},
     {"data": {"name": "dout"}, "mark": {"type": "point", "filled": true, "size": 22, "color": "#5a5a5a", "opacity": 1},
      "encoding": {"x": {"field": "g", "type": "nominal"}, "xOffset": {"field": "m", "type": "nominal"}, "y": {"field": "v", "type": "quantitative"}}}
    ]
   }
  ]
 }
]
}
